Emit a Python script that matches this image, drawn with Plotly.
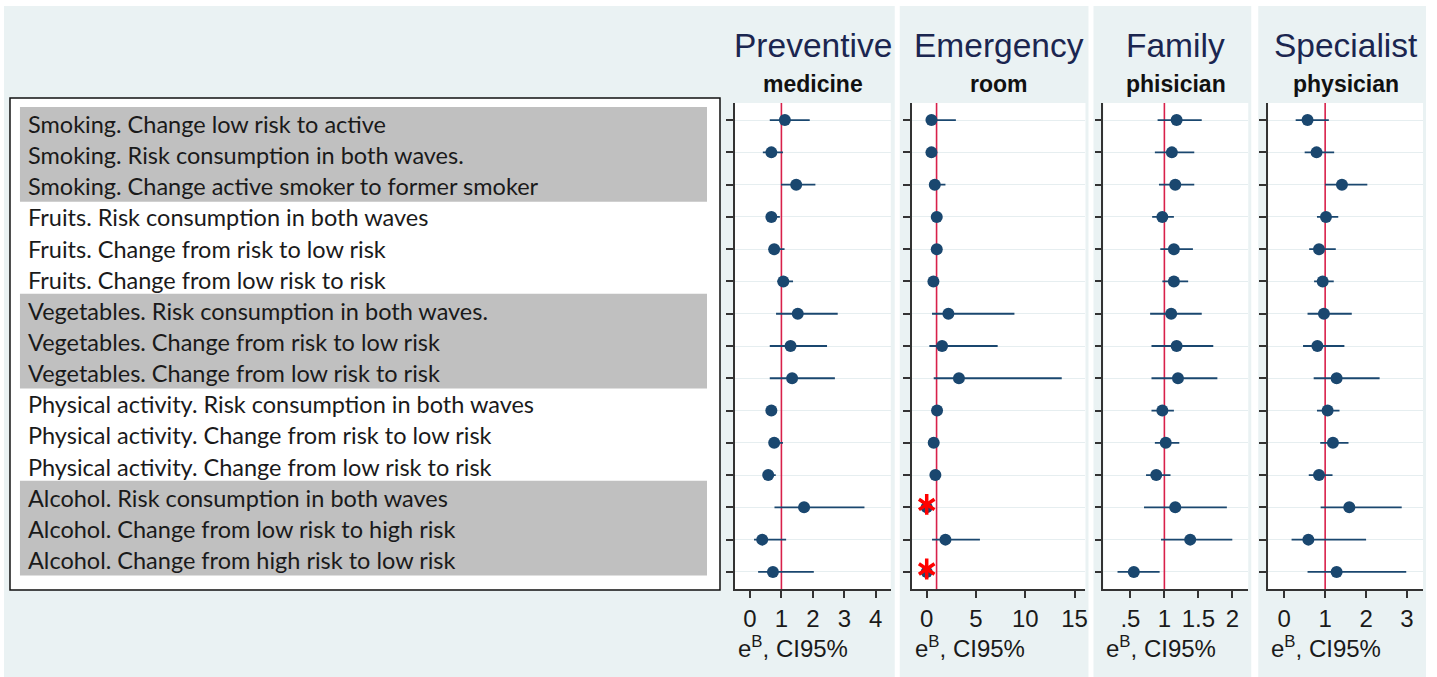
import plotly.graph_objects as go

W, H = 1437, 677

# ---------------- data ----------------
row_labels = [
    "Smoking. Change low risk to active",
    "Smoking. Risk consumption in both waves.",
    "Smoking. Change active smoker to former smoker",
    "Fruits. Risk consumption in both waves",
    "Fruits. Change from risk to low risk",
    "Fruits. Change from low risk to risk",
    "Vegetables. Risk consumption in both waves.",
    "Vegetables. Change from risk to low risk",
    "Vegetables. Change from low risk to risk",
    "Physical activity. Risk consumption in both waves",
    "Physical activity. Change from risk to low risk",
    "Physical activity. Change from low risk to risk",
    "Alcohol. Risk consumption in both waves",
    "Alcohol. Change from low risk to high risk",
    "Alcohol. Change from high risk to low risk",
]
shaded_groups = [(0, 2), (6, 8), (12, 14)]

panel_titles = ["Preventive", "Emergency", "Family", "Specialist"]
panel_subtitles = ["medicine", "room", "phisician", "physician"]

prev_est = [1.11, 0.68, 1.47, 0.68, 0.77, 1.06, 1.52, 1.29, 1.34, 0.68, 0.77, 0.58, 1.72, 0.39, 0.73]
prev_lo  = [0.63, 0.41, 0.99, 0.55, 0.60, 0.87, 0.83, 0.63, 0.63, 0.55, 0.63, 0.45, 0.78, 0.13, 0.26]
prev_hi  = [1.90, 1.05, 2.08, 0.95, 1.10, 1.37, 2.79, 2.45, 2.70, 0.85, 1.05, 0.82, 3.64, 1.15, 2.03]

emer_est = [0.48, 0.48, 0.82, 1.02, 1.02, 0.68, 2.20, 1.56, 3.27, 1.05, 0.71, 0.88, 0.00, 1.90, 0.00]
emer_lo  = [0.20, 0.20, 0.40, 0.60, 0.60, 0.30, 0.54, 0.27, 0.71, 0.70, 0.40, 0.50, None, 0.54, None]
emer_hi  = [2.96, 0.90, 1.90, 1.50, 1.50, 1.10, 8.90, 7.20, 13.7, 1.40, 1.00, 1.30, None, 5.40, None]
emer_flag = [False] * 12 + [True, False, True]

fam_est = [1.18, 1.11, 1.16, 0.97, 1.14, 1.14, 1.10, 1.18, 1.20, 0.97, 1.02, 0.88, 1.16, 1.38, 0.55]
fam_lo  = [0.90, 0.86, 0.92, 0.82, 0.94, 0.97, 0.79, 0.81, 0.81, 0.81, 0.86, 0.73, 0.70, 0.95, 0.31]
fam_hi  = [1.55, 1.44, 1.44, 1.14, 1.42, 1.35, 1.55, 1.72, 1.78, 1.14, 1.22, 1.09, 1.92, 2.00, 0.93]

spec_est = [0.57, 0.79, 1.41, 1.02, 0.85, 0.94, 0.97, 0.81, 1.28, 1.06, 1.19, 0.85, 1.59, 0.59, 1.28]
spec_lo  = [0.28, 0.50, 1.00, 0.80, 0.61, 0.73, 0.57, 0.46, 0.72, 0.80, 0.88, 0.60, 0.89, 0.18, 0.57]
spec_hi  = [1.09, 1.22, 2.03, 1.32, 1.26, 1.21, 1.65, 1.47, 2.33, 1.35, 1.57, 1.18, 2.87, 2.00, 2.98]

prev_ticks = [0, 1, 2, 3, 4]
emer_ticks = [0, 5, 10, 15]
fam_ticks = [0.5, 1, 1.5, 2]
fam_ticktext = [".5", "1", "1.5", "2"]
spec_ticks = [0, 1, 2, 3]

REF_VALUE = 1
axis_title = "e<sup>B</sup>, CI95%"

# ---------------- styling / layout ----------------
BG = "#eaf2f3"
NAVY = "#1a476f"
RED = "#d8204a"
AST = "#ff0000"
AXC = "#333333"
TITLE_FONT = "Liberation Sans, Arial, sans-serif"
LABEL_FONT = "Lato, Open Sans, sans-serif"

def px(x):
    return x / W

def py(y):
    return 1 - y / H

plot_top, plot_bot = 103, 589
YR = [15.53, 0.47]
rows = list(range(1, 16))

panels = [
    dict(est=prev_est, lo=prev_lo, hi=prev_hi, flag=None, x0=736, x1=892, rng=[-0.476, 4.476],
         ticks=prev_ticks, ticktext=[str(t) for t in prev_ticks], bg=(4, 896)),
    dict(est=emer_est, lo=emer_lo, hi=emer_hi, flag=emer_flag, x0=913, x1=1087, rng=[-1.52, 16.11],
         ticks=emer_ticks, ticktext=[str(t) for t in emer_ticks], bg=(901, 1090)),
    dict(est=fam_est, lo=fam_lo, hi=fam_hi, flag=None, x0=1105, x1=1250, rng=[0.103, 2.235],
         ticks=fam_ticks, ticktext=fam_ticktext, bg=(1095, 1253)),
    dict(est=spec_est, lo=spec_lo, hi=spec_hi, flag=None, x0=1270, x1=1425, rng=[-0.39, 3.39],
         ticks=spec_ticks, ticktext=[str(t) for t in spec_ticks], bg=(1260, 1428)),
]

fig = go.Figure()
shapes = []
annotations = []

# panel backgrounds
for p in panels:
    shapes.append(dict(type="rect", xref="paper", yref="paper", layer="below",
                       x0=px(p["bg"][0]), x1=px(p["bg"][1]), y0=py(677), y1=py(6),
                       fillcolor=BG, line=dict(width=0)))
# white plot areas
for p in panels:
    shapes.append(dict(type="rect", xref="paper", yref="paper", layer="below",
                       x0=px(p["x0"]), x1=px(p["x1"]), y0=py(plot_bot), y1=py(plot_top),
                       fillcolor="white", line=dict(width=0)))

for i, p in enumerate(panels):
    k = "" if i == 0 else str(i + 1)
    xa, ya = "x" + k, "y" + k
    # reference line
    fig.add_trace(go.Scatter(x=[REF_VALUE, REF_VALUE], y=YR, xaxis=xa, yaxis=ya, mode="lines",
                             line=dict(color=RED, width=1.6), hoverinfo="skip", showlegend=False))
    # CI lines
    cx, cy = [], []
    for r, lo, hi in zip(rows, p["lo"], p["hi"]):
        if lo is None or hi is None:
            continue
        cx += [lo, hi, None]
        cy += [r, r, None]
    fig.add_trace(go.Scatter(x=cx, y=cy, xaxis=xa, yaxis=ya, mode="lines",
                             line=dict(color=NAVY, width=1.8), hoverinfo="skip", showlegend=False))
    # point estimates
    fig.add_trace(go.Scatter(x=p["est"], y=rows, xaxis=xa, yaxis=ya, mode="markers",
                             marker=dict(symbol="circle", size=12, color=NAVY, line=dict(width=0)),
                             showlegend=False))
    if p["flag"]:
        fx = [e for e, f in zip(p["est"], p["flag"]) if f]
        fy = [r - 0.09 for r, f in zip(rows, p["flag"]) if f]
        for sym in ("y-up-open", "y-down-open"):
            fig.add_trace(go.Scatter(x=fx, y=fy, xaxis=xa, yaxis=ya, mode="markers",
                                     marker=dict(symbol=sym, size=13, color=AST,
                                                 line=dict(color=AST, width=3.5)),
                                     showlegend=False))

    fig.update_layout(**{
        ("xaxis" + k): dict(domain=[px(p["x0"]), px(p["x1"])], range=p["rng"], anchor=ya,
                            tickvals=p["ticks"], ticktext=p["ticktext"], ticks="outside",
                            ticklen=7, tickwidth=1.5, tickcolor=AXC, showline=True,
                            linecolor=AXC, linewidth=1.8, showgrid=False, zeroline=False,
                            tickfont=dict(family=TITLE_FONT, size=24, color="#1a1a1a")),
        ("yaxis" + k): dict(domain=[py(plot_bot), py(plot_top)], range=YR, anchor=xa,
                            tickvals=rows, showticklabels=False, ticks="outside", ticklen=7,
                            tickwidth=1.5, tickcolor=AXC, showline=True, linecolor=AXC,
                            linewidth=1.8, showgrid=True, gridcolor="#e6eef0", gridwidth=1,
                            zeroline=False),
    })
    cxm = (p["x0"] + p["x1"]) / 2
    annotations.append(dict(text=panel_titles[i], x=px(cxm), y=py(46), xref="paper", yref="paper",
                            xanchor="center", yanchor="middle", showarrow=False,
                            font=dict(family=TITLE_FONT, size=33.5, color="#1b2650")))
    annotations.append(dict(text="<b>" + panel_subtitles[i] + "</b>", x=px(cxm), y=py(84),
                            xref="paper", yref="paper", xanchor="center", yanchor="middle",
                            showarrow=False, font=dict(family=TITLE_FONT, size=23, color="#111111")))
    annotations.append(dict(text=axis_title, x=px(p["x0"] + 1), y=py(647), xref="paper",
                            yref="paper", xanchor="left", yanchor="middle", showarrow=False,
                            font=dict(family=TITLE_FONT, size=24, color="#1a1a1a")))

# label box
shapes.append(dict(type="rect", xref="paper", yref="paper", layer="below",
                   x0=px(10), x1=px(721), y0=py(590), y1=py(98),
                   fillcolor="white", line=dict(color="#111111", width=1.5)))

text_y0, text_dy = 124, 31.14
for a, b in shaded_groups:
    shapes.append(dict(type="rect", xref="paper", yref="paper", layer="below",
                       x0=px(20), x1=px(708), y0=py(text_y0 + b * text_dy + 15.5),
                       y1=py(text_y0 + a * text_dy - 17),
                       fillcolor="#c0c0c0", line=dict(width=0)))
for j, lab in enumerate(row_labels):
    annotations.append(dict(text=lab, x=px(26), y=py(text_y0 + j * text_dy), xref="paper",
                            yref="paper", xanchor="left", yanchor="middle", showarrow=False,
                            font=dict(family=LABEL_FONT, size=23.5, color="#1a1a1a")))

fig.update_layout(width=W, height=H, margin=dict(l=0, r=0, t=0, b=0),
                  paper_bgcolor="white", plot_bgcolor="rgba(0,0,0,0)",
                  shapes=shapes, annotations=annotations, showlegend=False)

fig.write_html("out.html", config={"displayModeBar": False},
               post_script="document.body.style.margin='0';")
